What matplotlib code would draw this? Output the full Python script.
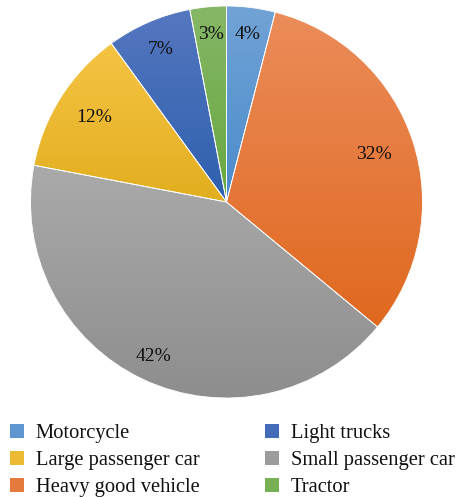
import numpy as np
import matplotlib
matplotlib.use('Agg')
import matplotlib.pyplot as plt
from matplotlib.patches import Patch
from matplotlib.colors import to_rgb, LinearSegmentedColormap

## data, clockwise from 12 o'clock
labels = ['Motorcycle', 'Heavy good vehicle', 'Small passenger car',
          'Large passenger car', 'Light trucks', 'Tractor']
shares = [4, 32, 42, 12, 7, 3]

## gradient colours (top, bottom) for each slice
top_colors = ['#72a3d6', '#eb8c5a', '#aaaaaa', '#f6c444', '#5577bf', '#86b767']
bot_colors = ['#4a8bca', '#e0681f', '#8d8d8d', '#e1ae1f', '#2e60ae', '#68a73f']
## radial position of each percentage label (fraction of radius)
label_r = [0.86, 0.79, 0.87, 0.80, 0.85, 0.86]

plt.rcParams['font.family'] = ['Liberation Serif', 'DejaVu Serif']

W, H = 460, 497
fig = plt.figure(figsize=(W / 100, H / 100), dpi=100)
cx, cy, R = 226.5, 202.0, 196.0
ax = fig.add_axes([(cx - R) / W, (H - cy - R) / H, 2 * R / W, 2 * R / H])

wedges, _ = ax.pie(shares, startangle=90, counterclock=False,
                   colors=top_colors, radius=1.0,
                   wedgeprops=dict(edgecolor='white', linewidth=0.6))

for i, w in enumerate(wedges):
    ## vertical gradient clipped to the wedge
    verts = w.get_path().vertices
    x0, x1 = verts[:, 0].min(), verts[:, 0].max()
    y0, y1 = verts[:, 1].min(), verts[:, 1].max()
    cmap = LinearSegmentedColormap.from_list('g%d' % i, [bot_colors[i], top_colors[i]])
    grad = np.linspace(1, 0, 256).reshape(-1, 1)
    im = ax.imshow(grad, cmap=cmap, extent=[x0, x1, y0, y1], aspect='auto',
                   origin='upper', zorder=1, interpolation='bilinear')
    im.set_clip_path(w)
    w.set_facecolor('none')
    w.set_zorder(2)

    ## percentage label
    th = np.deg2rad((w.theta1 + w.theta2) / 2.0)
    ax.text(label_r[i] * np.cos(th), label_r[i] * np.sin(th),
            '{:.0f}%'.format(shares[i]), ha='center', va='center',
            fontsize=14, color='#111111', zorder=3)

ax.set_xlim(-1, 1)
ax.set_ylim(-1, 1)
ax.set_aspect('equal')
ax.axis('off')

## legend in two columns, as in the original
mid = lambda a, b: tuple((np.array(to_rgb(a)) + np.array(to_rgb(b))) / 2)
handles = [Patch(facecolor=mid(top_colors[i], bot_colors[i]), edgecolor='none')
           for i in range(len(labels))]
col1 = [0, 3, 1]
col2 = [4, 2, 5]
legopts = dict(frameon=False, fontsize=14.8, handlelength=0.7, handleheight=0.7,
               handletextpad=0.55, labelspacing=0.36, borderpad=0, borderaxespad=0,
               labelcolor='#111111')
leg1 = fig.legend([handles[i] for i in col1], [labels[i] for i in col1],
                  loc='upper left', bbox_to_anchor=(10 / W, 1 - 424 / H), **legopts)
leg2 = fig.legend([handles[i] for i in col2], [labels[i] for i in col2],
                  loc='upper left', bbox_to_anchor=(265 / W, 1 - 424 / H), **legopts)

fig.savefig('out.png', dpi=100)
